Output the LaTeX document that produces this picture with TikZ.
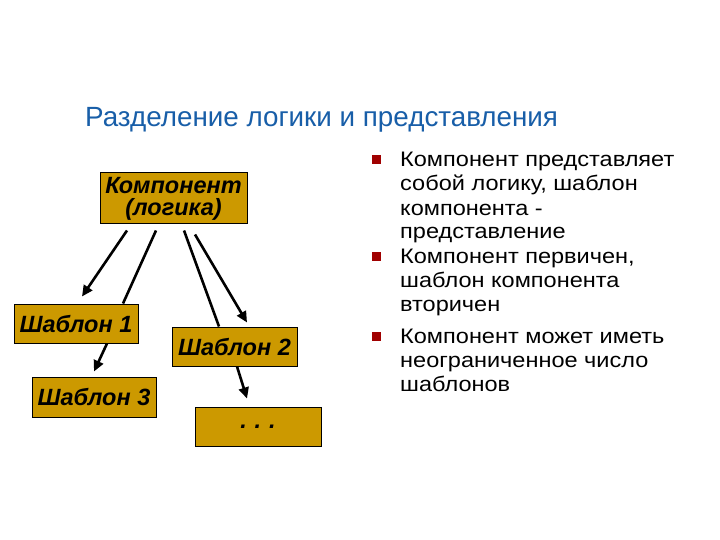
\documentclass[tikz,border=0pt]{standalone}
\usepackage{fontspec}
\setmainfont{Liberation Sans}
\newfontfamily\widefont[FakeStretch=1.12]{Liberation Sans}
\usetikzlibrary{arrows.meta}
\definecolor{boxfill}{RGB}{204,153,0}
\definecolor{titleblue}{RGB}{24,94,168}
\definecolor{bulletred}{RGB}{160,0,0}
\tikzset{
  tbox/.style={draw=black, line width=1pt, fill=boxfill, inner sep=0pt,
    font=\fontsize{23.5}{22}\selectfont\bfseries\itshape, align=center},
  conn/.style={line width=2.6pt, draw=black},
  arr/.style={conn, -{Triangle[length=11pt,width=10pt]}},
  btext/.style={anchor=base west, inner sep=0pt, font=\widefont\fontsize{21}{24}\selectfont},
  bullet/.style={fill=bulletred, minimum size=9pt, inner sep=0pt}
}
\begin{document}
\begin{tikzpicture}[x=1pt,y=-1pt]
\useasboundingbox (0,0) rectangle (720,540);
\node[anchor=base west, inner sep=0pt, text=titleblue, font=\fontsize{27.8}{33}\selectfont] (title) at (85,127) {Разделение логики и представления};

\node[tbox, minimum width=147pt, minimum height=51pt] (comp) at (173.5,198.5) {Компонент\\(логика)};
\node[tbox, minimum width=124pt, minimum height=39pt] (t1) at (76,323.5) {Шаблон 1};
\node[tbox, minimum width=125pt, minimum height=39pt] (t2) at (234.5,346.5) {Шаблон 2};
\node[tbox, minimum width=124pt, minimum height=40pt] (t3) at (94,397) {Шаблон 3};
\node[tbox, minimum width=126pt, minimum height=39pt, text depth=-4pt] (dots) at (258,426.5) {.\,\,.\,\,.};

\draw[arr] ([xshift=-46.5pt,yshift=-6pt]comp.south) -- ([xshift=6pt,yshift=7pt]t1.north);
\draw[conn] ([xshift=-17.5pt,yshift=-6pt]comp.south) -- ([xshift=47pt]t1.north);
\draw[conn] ([xshift=10.5pt,yshift=-6pt]comp.south) -- ([xshift=-15.5pt]t2.north);
\draw[arr] ([xshift=21.5pt,yshift=-10pt]comp.south) -- ([xshift=12.5pt,yshift=4pt]t2.north);
\draw[arr] ([xshift=31pt]t1.south) -- ([yshift=5pt]t3.north);
\draw[arr] ([xshift=2.5pt]t2.south) -- ([xshift=-11pt,yshift=8pt]dots.north);

\node[bullet] (b1) at (376.5,159.5) {};
\node[bullet] (b2) at (376.5,256) {};
\node[bullet] (b3) at (376.5,336) {};

\node[btext] (l1) at (400,167) {Компонент представляет};
\node[btext] (l2) at (400,191) {собой логику, шаблон};
\node[btext] (l3) at (400,215) {компонента -};
\node[btext] (l4) at (400,239) {представление};
\node[btext] (l5) at (400,263) {Компонент первичен,};
\node[btext] (l6) at (400,287) {шаблон компонента};
\node[btext] (l7) at (400,311) {вторичен};
\node[btext] (l8) at (400,343) {Компонент может иметь};
\node[btext] (l9) at (400,367) {неограниченное число};
\node[btext] (l10) at (400,391) {шаблонов};
\end{tikzpicture}
\end{document}
